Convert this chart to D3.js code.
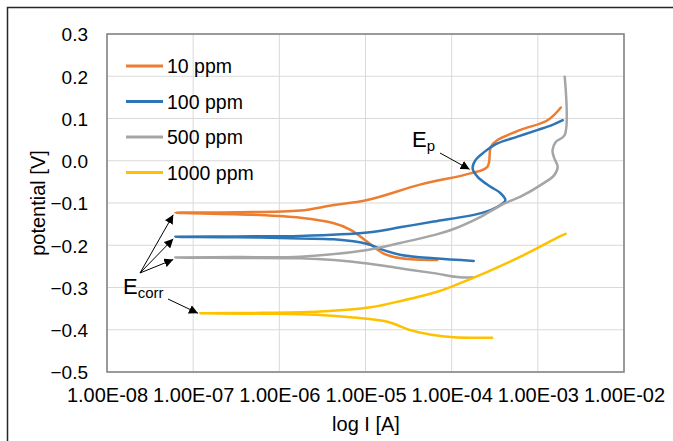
<!DOCTYPE html>
<html>
<head>
<meta charset="utf-8">
<script src="https://cdn.jsdelivr.net/npm/d3@7"></script>
<style>
  html, body { margin: 0; padding: 0; background: #fff; }
  svg { display: block; }
</style>
</head>
<body>
<svg id="chart" width="673" height="441"></svg>
<script>
// Series: [current (A), potential (V)], scanned cathodic end -> Ecorr -> anodic end
const seriesNames = ["10 ppm", "100 ppm", "500 ppm", "1000 ppm"];
const seriesColors = ["#ED7D31", "#2E75B6", "#A5A5A5", "#FFC000"];

const ppm10 = [
  [6.8e-5, -0.235], [2.6e-5, -0.231], [1.6e-5, -0.219], [1.05e-5, -0.192], [6.8e-6, -0.164],
  [4.3e-6, -0.148], [1.75e-6, -0.135], [5e-7, -0.128], [6.2e-8, -0.123],
  [3.2e-7, -0.122], [1.75e-6, -0.118], [4e-6, -0.106], [1.05e-5, -0.093], [4.4e-5, -0.056],
  [1.65e-4, -0.030], [2.6e-4, -0.014], [2.85e-4, 0.033], [3.4e-4, 0.049], [6.3e-4, 0.073],
  [1.3e-3, 0.096], [1.85e-3, 0.126]
];
const ppm100 = [
  [1.8e-4, -0.237], [6.2e-5, -0.231], [2.6e-5, -0.223], [1.6e-5, -0.211], [1.05e-5, -0.197],
  [4.3e-6, -0.186], [1.75e-6, -0.184], [3.2e-7, -0.181], [6.2e-8, -0.180],
  [3.2e-7, -0.179], [1.75e-6, -0.178], [1.05e-5, -0.170], [2.6e-5, -0.157], [6.2e-5, -0.144],
  [2.2e-4, -0.124], [3.4e-4, -0.109], [4.2e-4, -0.093], [3.6e-4, -0.075], [2.8e-4, -0.061],
  [2.0e-4, -0.038], [1.75e-4, -0.018], [1.9e-4, 0.002], [2.4e-4, 0.021], [3.4e-4, 0.041],
  [5.8e-4, 0.057], [1.0e-3, 0.073], [1.48e-3, 0.085], [1.95e-3, 0.096]
];
const ppm500 = [
  [1.75e-4, -0.276], [1.25e-4, -0.276], [6.2e-5, -0.266], [2.6e-5, -0.255], [1.05e-5, -0.243],
  [4.3e-6, -0.235], [1.75e-6, -0.231], [3.2e-7, -0.230], [6.2e-8, -0.229],
  [3.2e-7, -0.228], [1.75e-6, -0.227], [1.05e-5, -0.211], [2.6e-5, -0.194], [6.2e-5, -0.176],
  [9.8e-5, -0.164], [2.2e-4, -0.132], [4.1e-4, -0.101], [6.3e-4, -0.085], [1.17e-3, -0.053],
  [1.55e-3, -0.034], [1.7e-3, -0.014], [1.55e-3, 0.006], [1.48e-3, 0.025], [1.62e-3, 0.045],
  [2.05e-3, 0.061], [2.05e-3, 0.199]
];
const ppm1000 = [
  [2.95e-4, -0.419], [1.05e-4, -0.418], [5.8e-5, -0.412], [3.3e-5, -0.401], [1.8e-5, -0.381],
  [7.2e-6, -0.371], [3.0e-6, -0.365], [6.3e-7, -0.362], [1.2e-7, -0.361],
  [6.3e-7, -0.360], [3.0e-6, -0.357], [1.15e-5, -0.347], [2.8e-5, -0.330], [6.8e-5, -0.310],
  [1.05e-4, -0.296], [2.6e-4, -0.263], [6.3e-4, -0.227], [1.85e-3, -0.178], [2.1e-3, -0.173]
];

const xTicks = [1e-8, 1e-7, 1e-6, 1e-5, 1e-4, 1e-3, 1e-2];
const yTicks = [0.3, 0.2, 0.1, 0.0, -0.1, -0.2, -0.3, -0.4, -0.5];

// annotation anchors (data coords)
const ecorrPoints = [ppm10[8], ppm100[8], ppm500[8]];
const ecorrYellow = ppm1000[8];
const epPoint = ppm100[20];

const W = 673, H = 441;
const m = { top: 34, right: 49, bottom: 69, left: 107 };
const iW = W - m.left - m.right;
const iH = H - m.top - m.bottom;
const FONT = "'Liberation Sans', Arial, sans-serif";

const svg = d3.select("#chart");

// outer chart frame (cut off at right/bottom edge)
svg.append("rect")
  .attr("x", 7.5).attr("y", 7.5).attr("width", W).attr("height", H)
  .attr("fill", "none").attr("stroke", "#262626").attr("stroke-width", 1.5);

const g = svg.append("g").attr("transform", `translate(${m.left},${m.top})`);

const x = d3.scaleLog().domain([1e-8, 1e-2]).range([0, iW]);
const y = d3.scaleLinear().domain([-0.5, 0.3]).range([iH, 0]);

// Grid
g.append("g").selectAll("line").data(xTicks).join("line")
  .attr("x1", d => x(d)).attr("x2", d => x(d)).attr("y1", 0).attr("y2", iH)
  .attr("stroke", "#d9d9d9").attr("stroke-width", 1);
g.append("g").selectAll("line").data(yTicks).join("line")
  .attr("x1", 0).attr("x2", iW).attr("y1", d => y(d)).attr("y2", d => y(d))
  .attr("stroke", "#d9d9d9").attr("stroke-width", 1);

// Axes (labels only)
g.append("g")
  .attr("transform", `translate(0,${iH})`)
  .call(d3.axisBottom(x).tickValues(xTicks).tickFormat(d => d.toExponential(2).toUpperCase().replace(/E([+-])(\d)$/, "E$10$2")).tickSize(0))
  .call(ax => {
    ax.select(".domain").remove();
    ax.selectAll(".tick text").style("fill", "#000").style("font-size", "20px").style("font-family", FONT).attr("dy", "1.33em");
  });

g.append("g")
  .call(d3.axisLeft(y).tickValues(yTicks).tickFormat(d3.format(".1f")).tickSize(0))
  .call(ax => {
    ax.select(".domain").remove();
    ax.selectAll(".tick text").style("fill", "#000").style("font-size", "19px").style("font-family", FONT).attr("x", -19).attr("dy", "0.36em");
  });

// Plot border
g.append("rect").attr("width", iW).attr("height", iH)
  .attr("fill", "none").attr("stroke", "#7f7f7f").attr("stroke-width", 1.5);

// Axis titles
svg.append("text")
  .attr("x", 366).attr("y", 431)
  .attr("text-anchor", "middle").style("font-size", "20px").style("font-family", FONT)
  .text("log I [A]");
svg.append("text")
  .attr("transform", "rotate(-90)").attr("x", -203).attr("y", 45)
  .attr("text-anchor", "middle").style("font-size", "20px").style("font-family", FONT)
  .text("potential [V]");

// Curves
const line = d3.line().x(d => x(d[0])).y(d => y(d[1])).curve(d3.curveCatmullRom.alpha(0.5));
const allSeries = [ppm10, ppm100, ppm500, ppm1000];
allSeries.forEach((s, i) => {
  g.append("path").datum(s)
    .attr("fill", "none").attr("stroke", seriesColors[i]).attr("stroke-width", 2.5)
    .attr("stroke-linejoin", "round").attr("stroke-linecap", "round")
    .attr("d", line);
});

// Legend
const legend = svg.append("g").attr("transform", "translate(126,66)");
seriesNames.forEach((n, i) => {
  const row = legend.append("g").attr("transform", `translate(0,${i * 35.5})`);
  row.append("line").attr("x1", 0).attr("x2", 37).attr("y1", 0).attr("y2", 0)
    .attr("stroke", seriesColors[i]).attr("stroke-width", 3);
  row.append("text").attr("x", 41).attr("y", 0).attr("dy", "0.36em")
    .style("font-size", "19.5px").style("font-family", FONT).text(n);
});

// Arrow marker
svg.append("defs").append("marker")
  .attr("id", "arrowL").attr("viewBox", "0 0 10 10").attr("refX", 10).attr("refY", 5)
  .attr("markerWidth", 9).attr("markerHeight", 9).attr("markerUnits", "userSpaceOnUse")
  .attr("orient", "auto")
  .append("path").attr("d", "M0,0 L10,5 L0,10 Z").attr("fill", "#000");

// Ecorr annotation
const ecOrigin = [140 - m.left, 273 - m.top];
ecorrPoints.forEach(p => {
  g.append("line")
    .attr("x1", ecOrigin[0]).attr("y1", ecOrigin[1])
    .attr("x2", x(p[0]) - 2).attr("y2", y(p[1]) + 2)
    .attr("stroke", "#000").attr("stroke-width", 1)
    .attr("marker-end", "url(#arrowL)");
});
g.append("line")
  .attr("x1", 168 - m.left).attr("y1", 299 - m.top)
  .attr("x2", x(ecorrYellow[0]) - 2).attr("y2", y(ecorrYellow[1]))
  .attr("stroke", "#000").attr("stroke-width", 1)
  .attr("marker-end", "url(#arrowL)");

const ecText = svg.append("text").attr("x", 123).attr("y", 294)
  .style("font-size", "22px").style("font-family", FONT);
ecText.append("tspan").text("E");
ecText.append("tspan").attr("dy", 4).style("font-size", "15px").text("corr");

// Ep annotation
g.append("line")
  .attr("x1", 440 - m.left).attr("y1", 153 - m.top)
  .attr("x2", x(epPoint[0]) - 3).attr("y2", y(epPoint[1]) + 1)
  .attr("stroke", "#000").attr("stroke-width", 1)
  .attr("marker-end", "url(#arrowL)");
const epText = svg.append("text").attr("x", 412).attr("y", 147)
  .style("font-size", "22px").style("font-family", FONT);
epText.append("tspan").text("E");
epText.append("tspan").attr("dy", 4).style("font-size", "15px").text("p");
</script>
</body>
</html>
